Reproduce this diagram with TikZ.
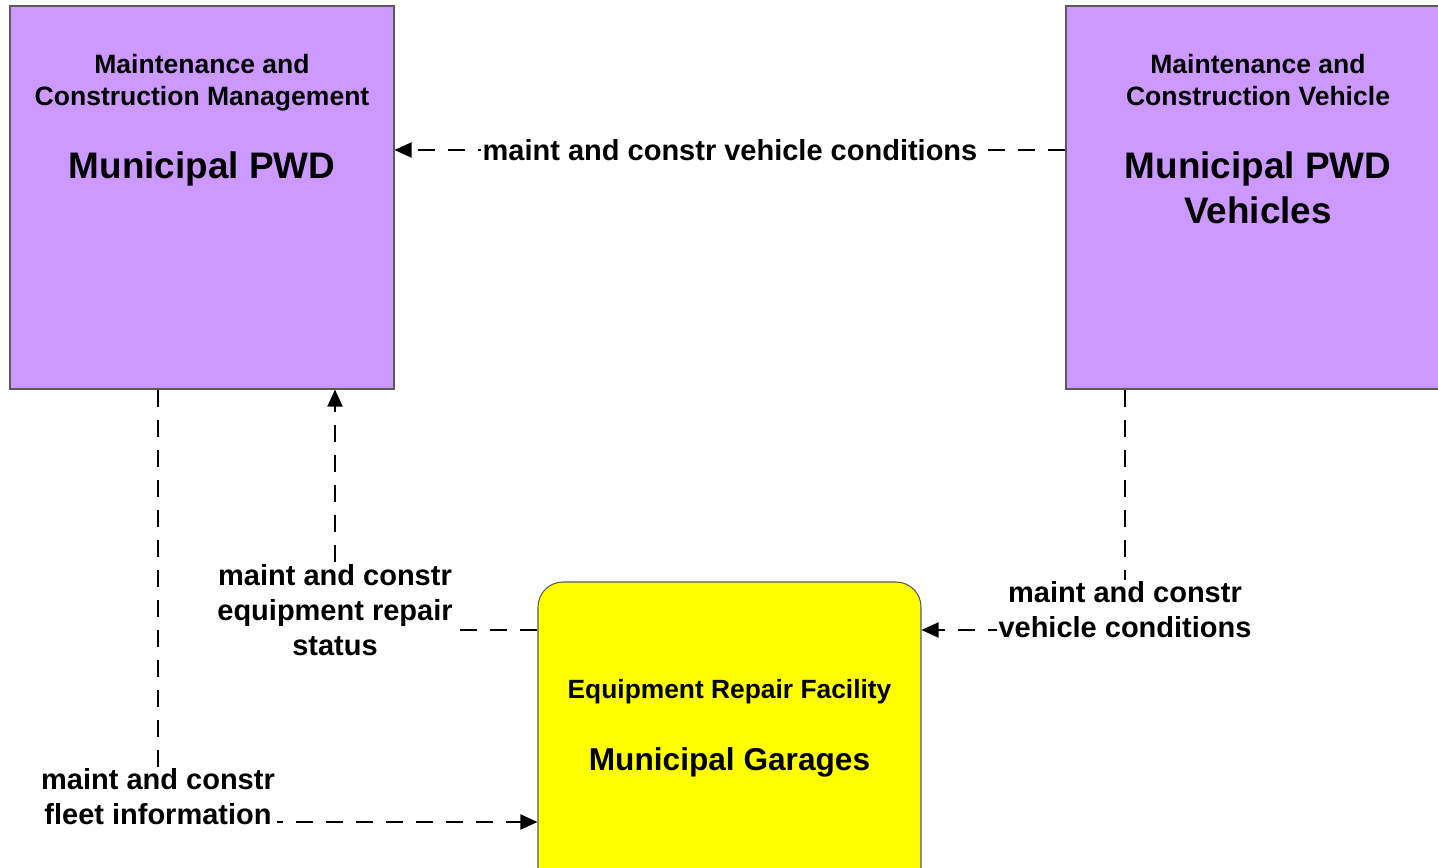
\documentclass[tikz,border=0pt]{standalone}
\usepackage{fontspec}
\setmainfont{Liberation Sans}
\usetikzlibrary{arrows.meta, positioning, calc}
\definecolor{pwdPurple}{RGB}{204, 153, 255}
\definecolor{garageYellow}{RGB}{255, 255, 0}
\definecolor{boxEdge}{RGB}{90, 90, 90}
\tikzset{
    entity/.style={draw=boxEdge, line width=0.6pt, fill=pwdPurple,
        minimum width=7.68cm, minimum height=7.66cm, inner sep=0pt},
    facility/.style={draw=boxEdge, line width=0.6pt, fill=garageYellow,
        rounded corners=0.5cm, minimum width=7.66cm, minimum height=7.66cm, inner sep=0pt},
    classText/.style={align=center, inner sep=0pt, font=\bfseries\fontsize{15.1}{18.2}\selectfont},
    nameText/.style={align=center, inner sep=0pt, font=\bfseries\fontsize{21}{25.6}\selectfont},
    flow/.style={line width=1.1pt, dash pattern=on 0.34cm off 0.26cm,
        -{Triangle[length=0.34cm, width=0.3cm]}},
    flowLabel/.style={fill=white, inner sep=1pt, align=center,
        font=\bfseries\fontsize{16.5}{19.9}\selectfont},
}

\begin{document}
\begin{tikzpicture}
    \useasboundingbox (0,0) rectangle (28.76,-17.36);
    \clip (0,0) rectangle (28.76,-17.36);

    % Boxes
    \node[entity] (pwd) at (4.04,-3.95) {};
    \node[entity] (vehicles) at (25.16,-3.95) {};
    \node[facility] (garages) at (14.59,-15.47) {};

    % Box texts
    \node[classText, below=0.96cm of pwd.north] (pwdClass) {Maintenance and\\Construction Management};
    \node[nameText, below=2.92cm of pwd.north] (pwdName) {Municipal PWD};
    \node[classText, below=0.96cm of vehicles.north] (vehClass) {Maintenance and\\Construction Vehicle};
    \node[nameText, below=2.92cm of vehicles.north] (vehName) {Municipal PWD\\Vehicles};
    \node[classText, font=\bfseries\fontsize{15}{18}\selectfont, below=1.96cm of garages.north] (garClass)
        {Equipment Repair Facility};
    \node[nameText, font=\bfseries\fontsize{18}{22}\selectfont, below=3.32cm of garages.north] (garName)
        {Municipal Garages};

    % Flows
    \draw[flow] (vehicles.west |- 0,-3.0) -- node[flowLabel] {maint and constr vehicle conditions}
        (pwd.east |- 0,-3.0);
    \draw[flow] (garages.west |- 0,-12.6) -| node[flowLabel, pos=0.5, yshift=0.4cm]
        {maint and constr\\equipment repair\\status} (pwd.south -| 6.7,0);
    \draw[flow] (vehicles.south -| 22.5,0) |- node[flowLabel, pos=0.5, yshift=0.4cm]
        {maint and constr\\vehicle conditions} (garages.east |- 0,-12.6);
    \draw[flow] (pwd.south -| 3.16,0) |- node[flowLabel, pos=0.5, yshift=0.5cm]
        {maint and constr\\fleet information} (garages.west |- 0,-16.44);

\end{tikzpicture}
\end{document}
